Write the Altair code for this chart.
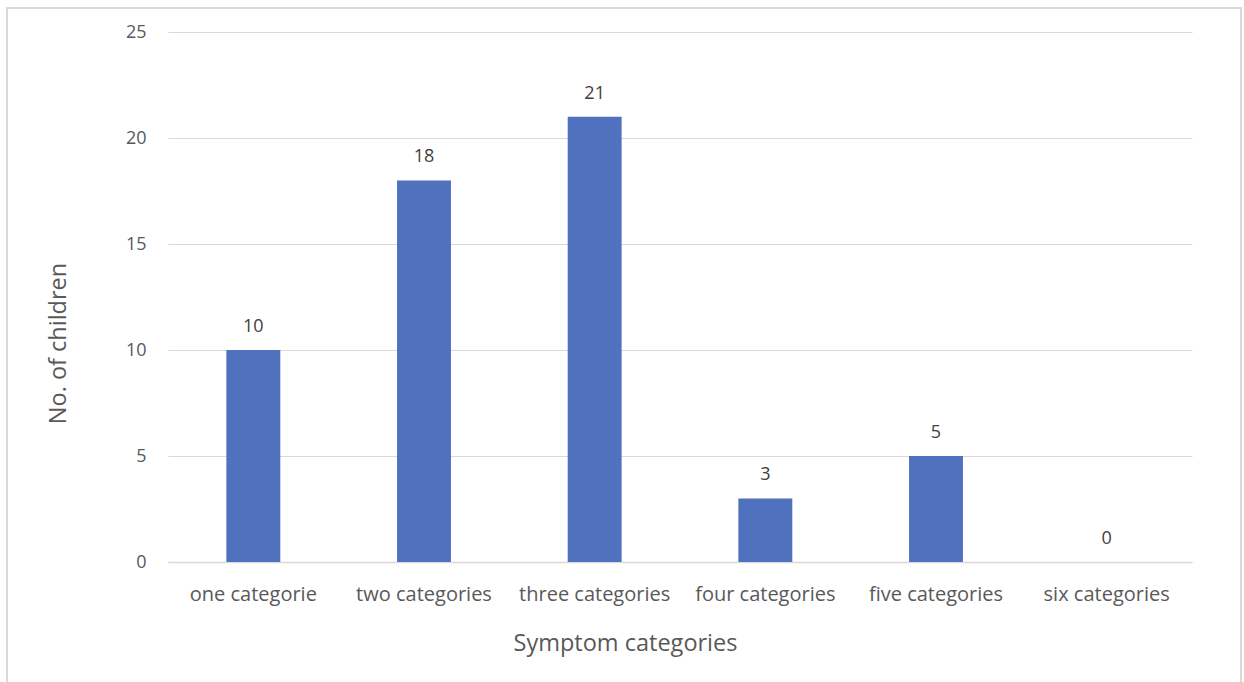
import altair as alt
import pandas as pd

categories = ["one categorie", "two categories", "three categories",
              "four categories", "five categories", "six categories"]
children = [10, 18, 21, 3, 5, 0]

df = pd.DataFrame({"category": categories, "children": children})

FONT = "Open Sans"
W, H = 1024, 530

x_enc = alt.X("category:N", sort=categories,
              scale=alt.Scale(paddingInner=0.684, paddingOuter=0.342),
              axis=alt.Axis(title="Symptom categories", labelAngle=0,
                            labelFontSize=20, labelColor="#595959",
                            labelPadding=22, titleFontSize=23.5,
                            titleColor="#595959", titleFontWeight="normal",
                            titlePadding=27, titleX=457, ticks=False,
                            domainColor="#d9d9d9", domainWidth=1.5,
                            labelFont=FONT, titleFont=FONT))
y_enc = alt.Y("children:Q",
              scale=alt.Scale(domain=[0, 25], nice=False),
              axis=alt.Axis(title="No. of children", values=[0, 5, 10, 15, 20, 25],
                            labelFontSize=18, labelColor="#595959",
                            labelPadding=22, titleFontSize=23.5,
                            titleColor="#595959", titleFontWeight="normal",
                            titlePadding=55, titleY=311, ticks=False, domain=False,
                            gridColor="#d9d9d9", gridWidth=1.2,
                            labelFont=FONT, titleFont=FONT))

bars = alt.Chart(df).mark_bar(color="#4f71be").encode(x=x_enc, y=y_enc)

labels = alt.Chart(df).mark_text(baseline="bottom", dy=-14, fontSize=18,
                                 color="#404040", font=FONT).encode(
    x=alt.X("category:N", sort=categories),
    y="children:Q",
    text="children:Q",
)

# light frame around the whole figure
frame = alt.Chart(df.head(1)).mark_rect(fill=None, stroke="#d9d9d9",
                                        strokeWidth=2, clip=False).encode(
    x=alt.value(-161), x2=alt.value(1073),
    y=alt.value(-24), y2=alt.value(660),
)

chart = alt.layer(bars, labels, frame).properties(
    width=W, height=H,
    padding={"left": 168, "top": 32, "right": 52, "bottom": 120},
    autosize=alt.AutoSizeParams(type="none"),
    background="white",
).configure_view(stroke=None)

chart.save("out.html", embed_options={"renderer": "svg", "actions": False})
